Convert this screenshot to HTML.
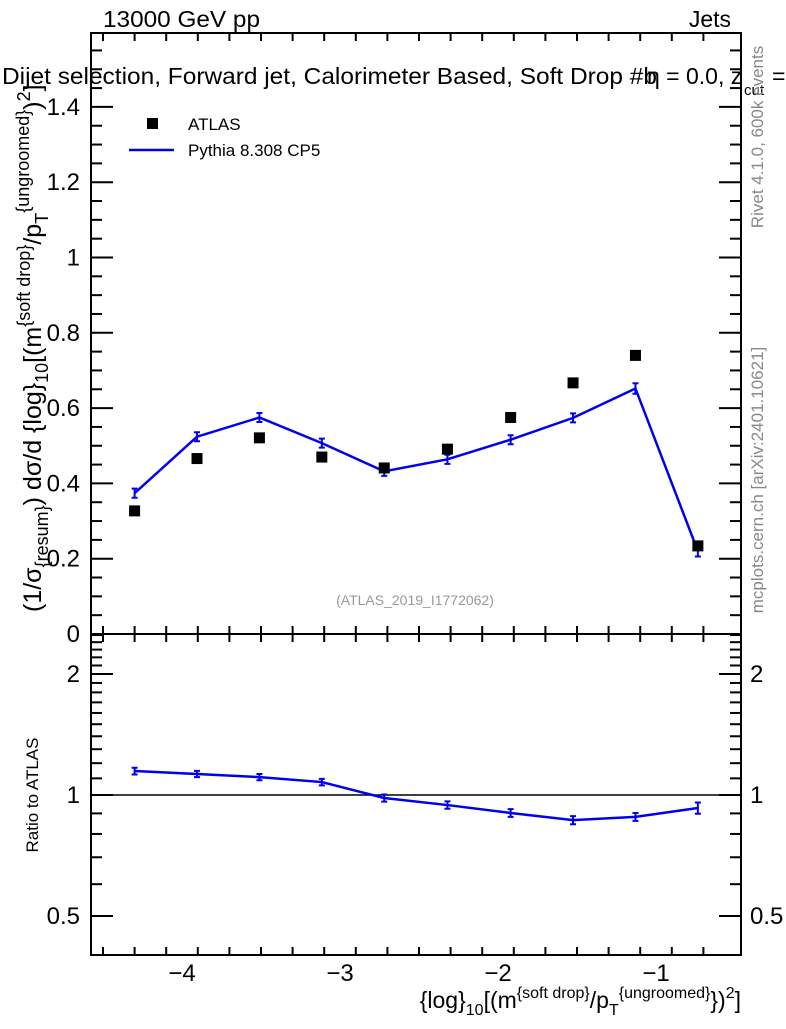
<!DOCTYPE html>
<html><head><meta charset="utf-8"><style>
body{margin:0;background:#fff;}
svg text{font-family:"Liberation Sans",sans-serif;}
</style></head><body>
<svg id="c" width="786" height="1024" xmlns="http://www.w3.org/2000/svg"></svg>
<script>
const xCenters=[-4.3,-3.905,-3.51,-3.115,-2.72,-2.32,-1.92,-1.525,-1.13,-0.735];
const atlasVals=[0.327,0.466,0.521,0.470,0.441,0.491,0.575,0.667,0.740,0.234];
const pythiaVals=[0.374,0.524,0.575,0.507,0.432,0.464,0.516,0.574,0.652,0.220];
const pythiaErr=[0.012,0.012,0.012,0.012,0.012,0.012,0.012,0.012,0.014,0.014];
const ratioVals=[1.147,1.128,1.108,1.077,0.983,0.944,0.902,0.866,0.882,0.928];
const ratioErr=[0.022,0.02,0.02,0.02,0.02,0.02,0.02,0.02,0.02,0.03];
const xTicks=[-4,-3,-2,-1];
const yTicks=[0,0.2,0.4,0.6,0.8,1,1.2,1.4];
const rTicks=[0.5,1,2];

const L=91,R=741,T1=33,B1=634,T2=634,B2=955;
const X=v=>182+(v+4)*158;
const Y=v=>634-v*376.5;
const YR=v=>795-Math.log2(v)*121;
const svg=document.getElementById('c');
const NS='http://www.w3.org/2000/svg';
function el(t,a,txt){const e=document.createElementNS(NS,t);for(const k in a)e.setAttribute(k,a[k]);if(txt!==undefined)e.textContent=txt;svg.appendChild(e);return e;}

let f=el('rect',{x:L,y:T1,width:R-L,height:B1-T1,fill:'none',stroke:'#000','stroke-width':2});

f=el('rect',{x:L,y:T2,width:R-L,height:B2-T2,fill:'none',stroke:'#000','stroke-width':2});


for(let v=-4.5;v<=-0.5;v+=0.2){const x=X(v);if(x<L||x>R)continue;
 const major=Math.abs(v-Math.round(v))<1e-6;const len=major?16:8;
 for(const [yb,yt] of [[B1,T1],[B2,T2]]){el('line',{x1:x,x2:x,y1:yb,y2:yb-len,stroke:'#000','stroke-width':2});el('line',{x1:x,x2:x,y1:yt,y2:yt+len,stroke:'#000','stroke-width':2});}
}
xTicks.forEach(v=>{const t=el('text',{x:X(v),y:981,'font-size':24,'text-anchor':'middle'},'−'+Math.abs(v));
 });

for(let v=0;v<=1.6;v+=0.05){const y=Y(v);if(y<T1)break;const major=Math.abs(v*5-Math.round(v*5))<1e-6;const len=major?22:11;
 el('line',{x1:L,x2:L+len,y1:y,y2:y,stroke:'#000','stroke-width':2});el('line',{x1:R,x2:R-len,y1:y,y2:y,stroke:'#000','stroke-width':2});}
yTicks.forEach(v=>{const t=el('text',{x:80,y:Y(v)+8,'font-size':24,'text-anchor':'end'},String(v));
 });

[0.5,0.6,0.7,0.8,0.9,1,1.1,1.2,1.3,1.4,1.5,1.6,1.7,1.8,1.9,2,2.1,2.2,2.3,2.4,2.5].forEach(v=>{const y=YR(v);if(y<T2||y>B2)return;
 const major=rTicks.includes(v);const len=major?22:11;
 el('line',{x1:L,x2:L+len,y1:y,y2:y,stroke:'#000','stroke-width':2});el('line',{x1:R,x2:R-len,y1:y,y2:y,stroke:'#000','stroke-width':2});});
rTicks.forEach(v=>{const t=el('text',{x:80,y:YR(v)+8,'font-size':24,'text-anchor':'end'},String(v));
 
 const t2=el('text',{x:750,y:YR(v)+8,'font-size':24},String(v));
 });
el('line',{x1:L,x2:R,y1:YR(1),y2:YR(1),stroke:'#000','stroke-width':1.5});

let p=el('polyline',{points:xCenters.map((x,i)=>X(x)+','+Y(pythiaVals[i])).join(' '),fill:'none',stroke:'#0000ee','stroke-width':2.5});

xCenters.forEach((x,i)=>{const cx=X(x),y1=Y(pythiaVals[i]-pythiaErr[i]),y2=Y(pythiaVals[i]+pythiaErr[i]);
 const g=el('path',{d:`M${cx},${y1}V${y2}M${cx-3},${y1}h6M${cx-3},${y2}h6`,stroke:'#0000ee','stroke-width':2,fill:'none'});
 });
xCenters.forEach((x,i)=>{const r=el('rect',{x:X(x)-5.5,y:Y(atlasVals[i])-5.5,width:11,height:11,fill:'#000'});
 });
p=el('polyline',{points:xCenters.map((x,i)=>X(x)+','+YR(ratioVals[i])).join(' '),fill:'none',stroke:'#0000ee','stroke-width':2.5});

xCenters.forEach((x,i)=>{const cx=X(x),y1=YR(ratioVals[i]-ratioErr[i]),y2=YR(ratioVals[i]+ratioErr[i]);
 const g=el('path',{d:`M${cx},${y1}V${y2}M${cx-3},${y1}h6M${cx-3},${y2}h6`,stroke:'#0000ee','stroke-width':2,fill:'none'});
 });

let r=el('rect',{x:147,y:118,width:11,height:11,fill:'#000'});
let t=el('text',{x:188,y:130,'font-size':17},'ATLAS');
let ln=el('line',{x1:129,x2:174,y1:150,y2:150,stroke:'#0000ee','stroke-width':2.5});
t=el('text',{x:188,y:156,'font-size':17},'Pythia 8.308 CP5');

t=el('text',{x:103,y:27,'font-size':23,textLength:157,lengthAdjust:'spacingAndGlyphs'},'13000 GeV pp');
t=el('text',{x:731,y:27,'font-size':23,'text-anchor':'end'},'Jets');
t=el('text',{x:2,y:84,'font-size':23,textLength:655,lengthAdjust:'spacingAndGlyphs'},'Dijet selection, Forward jet, Calorimeter Based, Soft Drop #b');
t=el('text',{x:647,y:84,'font-size':23},'η = 0.0, z');
t=el('text',{x:744,y:95,'font-size':15},'cut');
t=el('text',{x:772,y:84,'font-size':23},'=');
t=el('text',{x:415,y:605,'font-size':14,fill:'#999','text-anchor':'middle'},'(ATLAS_2019_I1772062)');
t=el('text',{x:0,y:0,'font-size':17,fill:'#888','text-anchor':'middle',transform:'translate(763,137) rotate(-90)'},'Rivet 4.1.0,  600k events');
t=el('text',{x:0,y:0,'font-size':17,fill:'#888','text-anchor':'middle',transform:'translate(763,480) rotate(-90)'},'mcplots.cern.ch [arXiv:2401.10621]');
t=el('text',{x:0,y:0,'font-size':25,'text-anchor':'start',transform:'translate(41,612) rotate(-90)'});
t.innerHTML='(1/σ<tspan font-size="18" dy="7">{resum}</tspan><tspan dy="-7">) dσ/d {log}</tspan><tspan font-size="18" dy="7">10</tspan><tspan dy="-7">[(m</tspan><tspan font-size="18" dy="-11">{soft drop}</tspan><tspan dy="11">/p</tspan><tspan font-size="18" dy="7">T</tspan><tspan font-size="18" dy="-19">{ungroomed}</tspan><tspan dy="12">)</tspan><tspan font-size="18" dy="-11">2</tspan><tspan dy="11">]</tspan>';

t=el('text',{x:0,y:0,'font-size':17,'text-anchor':'middle',transform:'translate(38,795) rotate(-90)'},'Ratio to ATLAS');
t=el('text',{x:741,y:1008,'font-size':23,'text-anchor':'end'});
t.innerHTML='{log}<tspan font-size="16" dy="7">10</tspan><tspan dy="-7">[(m</tspan><tspan font-size="16" dy="-10">{soft drop}</tspan><tspan dy="10">/p</tspan><tspan font-size="16" dy="7">T</tspan><tspan font-size="16" dy="-17">{ungroomed}</tspan><tspan dy="10">})</tspan><tspan font-size="16" dy="-10">2</tspan><tspan dy="10">]</tspan>';

</script>
</body></html>
